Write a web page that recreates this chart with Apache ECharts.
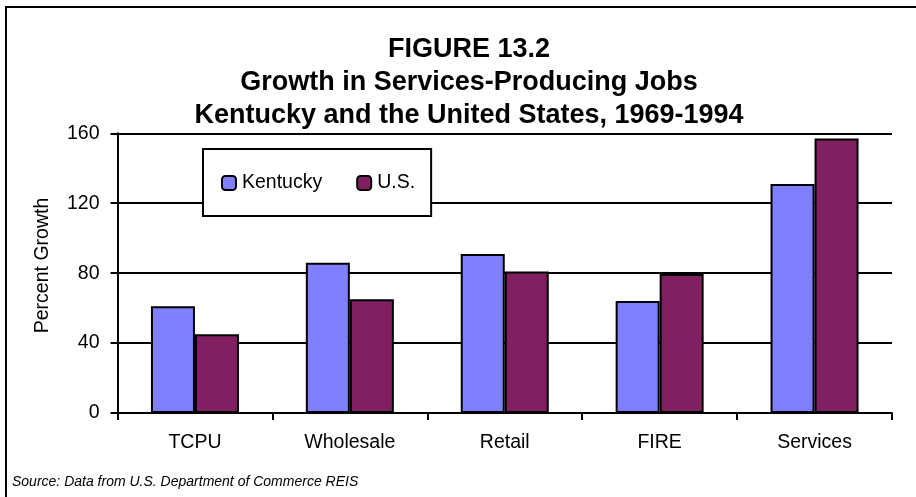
<!DOCTYPE html>
<html>
<head>
<meta charset="utf-8">
<script src="https://cdn.jsdelivr.net/npm/echarts@6/dist/echarts.min.js"></script>
<style>html,body{margin:0;padding:0;background:#fff}#c{width:916px;height:497px}</style>
</head>
<body>
<div id="c"></div>
<script>
const categories = ['TCPU', 'Wholesale', 'Retail', 'FIRE', 'Services'];
const kentucky = [61, 86, 91, 64, 131];
const us = [45, 65, 81, 79.5, 157];
const yTicks = { min: 0, max: 160, interval: 40 };
const titleLines = ['FIGURE 13.2', 'Growth in Services-Producing Jobs', 'Kentucky and the United States, 1969-1994'];
const yAxisName = 'Percent Growth';
const sourceNote = 'Source: Data from U.S. Department of Commerce REIS';

const FONT = '"Liberation Sans", Arial, sans-serif';
const chart = echarts.init(document.getElementById('c'), null, { renderer: 'canvas' });
chart.setOption({
  animation: false,
  backgroundColor: '#fff',
  title: {
    text: titleLines.join('\n'),
    left: 464, top: 28, textAlign: 'center',
    textStyle: { fontFamily: FONT, fontSize: 27, fontWeight: 'bold', color: '#000', lineHeight: 33 }
  },
  legend: {
    left: 203, top: 149,
    orient: 'horizontal',
    backgroundColor: '#fff', borderColor: '#000', borderWidth: 2,
    padding: [24, 16, 23, 18],
    itemWidth: 14, itemHeight: 14, itemGap: 34,
    textStyle: { fontFamily: FONT, fontSize: 19.5, color: '#000', padding: [0, 0, 0, 1] },
    data: ['Kentucky', 'U.S.']
  },
  grid: { left: 117.5, right: 24, top: 133.3, bottom: 84, containLabel: false },
  xAxis: {
    type: 'category', data: categories,
    axisLine: { lineStyle: { color: '#000', width: 2 } },
    axisTick: { show: true, length: 7, lineStyle: { color: '#000', width: 2 }, alignWithLabel: false },
    axisLabel: { margin: 20, fontFamily: FONT, fontSize: 19.5, color: '#000' }
  },
  yAxis: {
    type: 'value', min: yTicks.min, max: yTicks.max, interval: yTicks.interval,
    axisLine: { show: true, lineStyle: { color: '#000', width: 2 } },
    axisTick: { show: true, length: 7, lineStyle: { color: '#000', width: 2 } },
    axisLabel: { margin: 18, fontFamily: FONT, fontSize: 19.5, color: '#000' },
    splitLine: { show: true, lineStyle: { color: '#000', width: 2 } }
  },
  series: [
    { name: 'Kentucky', type: 'bar', data: kentucky, barWidth: 44, barGap: '0%',
      itemStyle: { color: '#8080FF', borderColor: '#000', borderWidth: 2 } },
    { name: 'U.S.', type: 'bar', data: us, barWidth: 44, barGap: '0%',
      itemStyle: { color: '#802060', borderColor: '#000', borderWidth: 2 } }
  ],
  graphic: [
    { type: 'rect', shape: { x: 6, y: 7, width: 940, height: 520 },
      style: { fill: 'none', stroke: '#000', lineWidth: 2 }, silent: true, z: 100 },
    { type: 'text', x: 43, y: 265.5, rotation: Math.PI / 2,
      style: { text: yAxisName, fontFamily: FONT, fontSize: 19.5, fill: '#000', align: 'center', verticalAlign: 'middle' } },
    { type: 'text', x: 12, y: 482,
      style: { text: sourceNote, fontFamily: FONT, fontSize: 14, fontStyle: 'italic', fill: '#000', align: 'left', verticalAlign: 'middle' } }
  ]
});
</script>
</body>
</html>
